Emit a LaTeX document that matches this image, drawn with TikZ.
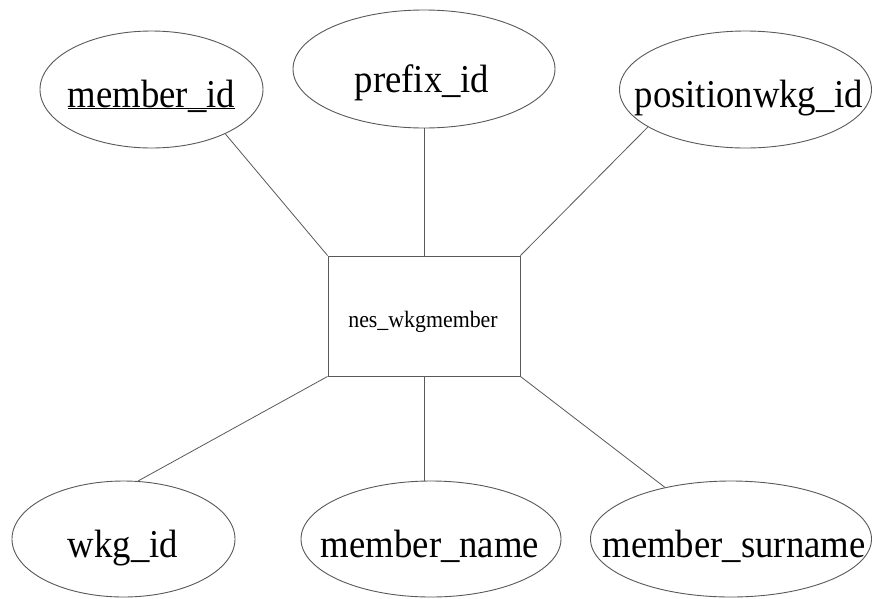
\documentclass[tikz,border=0pt]{standalone}
\usepackage{fontspec}
\setmainfont{Liberation Serif}
\newfontfamily\erfont[FakeStretch=0.93]{Liberation Serif}
\usetikzlibrary{shapes.geometric}
\newcommand\ulx[1]{\setbox0\hbox{#1}\rlap{\rule[-2.2pt]{\wd0}{1.1pt}}\box0}
\tikzset{
  attr/.style={ellipse, draw=black!65, line width=0.9pt, inner sep=0pt},
  entity/.style={rectangle, draw=black!65, line width=0.9pt, inner sep=0pt, minimum width=192pt, minimum height=120pt},
  lbl/.style={anchor=base, inner sep=0pt, font=\erfont\fontsize{39.5}{42}\selectfont},
  elbl/.style={anchor=base, inner sep=0pt, font=\erfont\fontsize{23.5}{26}\selectfont},
  conn/.style={draw=black!65, line width=0.8pt}
}
\begin{document}
\begin{tikzpicture}[x=1pt,y=-1pt]
\useasboundingbox (0,0) rectangle (873,598);
\fill[white] (0,0) rectangle (873,598);
% entity
\node[entity] (ent) at (424,316) {};
\node[elbl] (entl) at (423,327) {nes\_wkgmember};
% attributes
\node[attr, minimum width=223pt, minimum height=117pt] (mid) at (151.5,89.5) {};
\node[attr, minimum width=262pt, minimum height=118pt] (pid) at (424,69) {};
\node[attr, minimum width=252pt, minimum height=117pt] (pos) at (745.5,89.5) {};
\node[attr, minimum width=223pt, minimum height=116pt] (wkg) at (123.5,539) {};
\node[attr, minimum width=260pt, minimum height=116pt] (mname) at (431,539) {};
\node[attr, minimum width=281pt, minimum height=116pt] (msur) at (731,539) {};
% labels
\node[lbl] (midl) at (151.5,107) {\ulx{member\_id}};
\node[lbl] (pidl) at (422,92) {prefix\_id};
\node[lbl] (posl) at (749,107) {positionwkg\_id};
\node[lbl] (wkgl) at (123,557) {wkg\_id};
\node[lbl] (mnamel) at (430,557) {member\_name};
\node[lbl] (msurl) at (734,557) {member\_surname};
% connectors
\draw[conn] (mid.-31) -- (ent.north west);
\draw[conn] (pid.south) -- (ent.north);
\draw[conn] (pos.-159) -- (ent.north east);
\draw[conn] (wkg.76) -- (ent.south west);
\draw[conn] (ent.south) -- (ent.south |- mname.north);
\draw[conn] (msur.142) -- (ent.south east);
\end{tikzpicture}
\end{document}
